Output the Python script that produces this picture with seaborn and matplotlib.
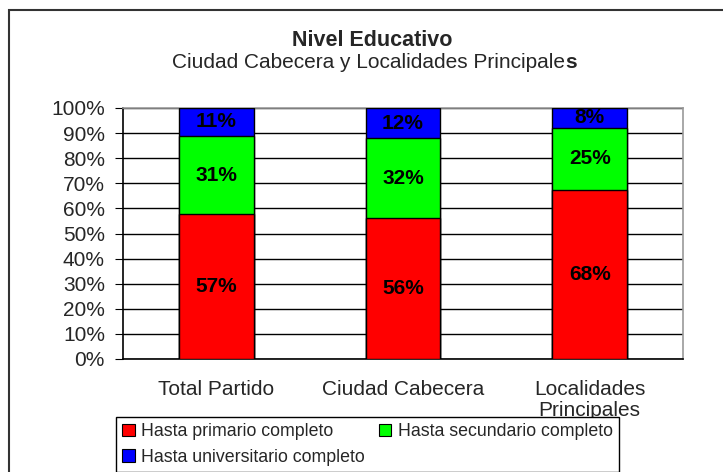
import seaborn as sns
import matplotlib.pyplot as plt
import matplotlib.patches as mpatches
import numpy as np
import pandas as pd

# datos (porcentajes)
categorias = ['Total Partido', 'Ciudad Cabecera', 'Localidades\nPrincipales']
primario = [57, 56, 68]
secundario = [31, 32, 25]
universitario = [11, 12, 8]
series = ['Hasta primario completo', 'Hasta secundario completo', 'Hasta universitario completo']
colores = ['#ff0000', '#00ff00', '#0000ff']
yticks = [0, 10, 20, 30, 40, 50, 60, 70, 80, 90, 100]

if __name__ == '__main__':
    sns.set_style('white')
    plt.rcParams['font.family'] = ['Liberation Sans', 'DejaVu Sans']

    df = pd.DataFrame({'cat': categorias, 'p': primario, 's': secundario, 'u': universitario})
    total = df['p'] + df['s'] + df['u']
    # apilado al 100%
    df['p100'] = df['p'] / total * 100
    df['ps100'] = (df['p'] + df['s']) / total * 100
    df['tot100'] = 100.0

    fig = plt.figure(figsize=(7.23, 4.72), dpi=100)
    ax = fig.add_axes([123 / 723, 1 - 359 / 472, (683 - 123) / 723, (359 - 108) / 472])

    # barras superpuestas de mayor a menor
    for col, color in zip(['tot100', 'ps100', 'p100'], colores[::-1]):
        sns.barplot(data=df, x='cat', y=col, color=color, width=0.4, saturation=1,
                    edgecolor='black', linewidth=1, ax=ax, zorder=3)

    # etiquetas de cada segmento
    for i in range(len(df)):
        mids = [df['p100'][i] / 2,
                (df['p100'][i] + df['ps100'][i]) / 2,
                (df['ps100'][i] + 100) / 2]
        for m, v in zip(mids, [primario[i], secundario[i], universitario[i]]):
            ax.text(i, m, f'{v}%', ha='center', va='center', fontsize=15,
                    fontweight='bold', color='black', zorder=5)

    ax.set_xlim(-0.5, 2.5)
    ax.set_ylim(0, 100)
    ax.set_yticks(yticks)
    ax.set_yticklabels([f'{v}%' for v in yticks], fontsize=15)
    ax.set_xlabel('')
    ax.set_ylabel('')
    ax.tick_params(axis='x', length=0, pad=15, labelsize=15)
    ax.set_xticks([-0.5, 0.5, 1.5, 2.5], minor=True)
    ax.tick_params(axis='x', which='minor', length=5, direction='out', color='black')
    ax.tick_params(axis='y', length=6, direction='out', color='black', pad=7, left=True)
    for t in ax.get_xticklabels():
        t.set_linespacing(1.12)
    ax.set_axisbelow(True)
    ax.yaxis.grid(True, color='black', linewidth=1)
    for s in ['left', 'bottom']:
        ax.spines[s].set_color('black')
        ax.spines[s].set_linewidth(1.2)
    for s in ['top', 'right']:
        ax.spines[s].set_color('#999999')
        ax.spines[s].set_linewidth(1.2)

    # titulos
    fig.text(372 / 723, 1 - 40 / 472, 'Nivel Educativo', ha='center', va='center',
             fontsize=15.5, fontweight='bold')
    sub = fig.text(369 / 723, 1 - 63 / 472, 'Ciudad Cabecera y Localidades Principale',
                   ha='center', va='center', fontsize=15)
    ax.annotate('s', xy=(1, 0), xycoords=sub, va='bottom', ha='left',
                fontsize=15, fontweight='bold', annotation_clip=False)

    # leyenda (orden por filas: primario, secundario / universitario)
    handles = [mpatches.Patch(facecolor=c, edgecolor='black', linewidth=0.8) for c in colores]
    orden = [0, 2, 1]
    leg = fig.legend([handles[k] for k in orden], [series[k] for k in orden], ncol=2,
                     loc='upper left', bbox_to_anchor=(116 / 723, 1 - 417 / 472),
                     fontsize=12.8, frameon=True, fancybox=False,
                     edgecolor='black', framealpha=1, handlelength=0.7, handleheight=0.7,
                     handletextpad=0.35, borderaxespad=0, borderpad=0.35,
                     labelspacing=0.48, columnspacing=0.8)
    leg.get_frame().set_linewidth(1)

    # marco exterior
    fig.patches.append(mpatches.Rectangle((9 / 723, -0.1), 1.2, 1.1 - 10 / 472,
                                          transform=fig.transFigure, fill=False,
                                          edgecolor='#333333', linewidth=1.5))

    plt.savefig('out.png', dpi=100)
